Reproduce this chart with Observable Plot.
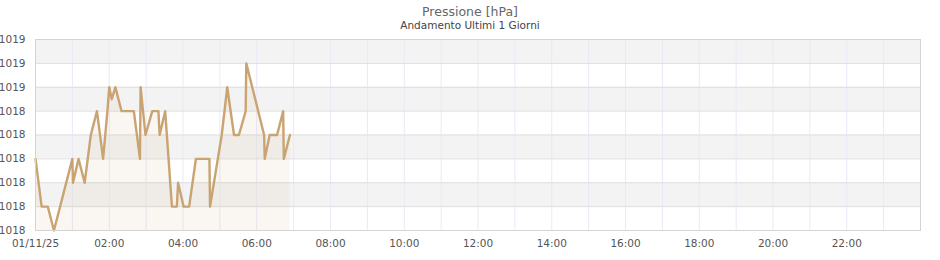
<!DOCTYPE html>
<html>
<head>
<meta charset="utf-8">
<script src="https://cdn.jsdelivr.net/npm/d3@7"></script>
<script src="https://cdn.jsdelivr.net/npm/@observablehq/plot@0.6"></script>
<style>
  body { margin: 0; background: #fff; width: 940px; height: 260px; overflow: hidden; font-family: "DejaVu Sans", sans-serif; }
  #title { text-align: center; color: #666; font-size: 12.5px; line-height: 15px; height: 15px; padding-top: 4px; }
  #subtitle { text-align: center; color: #444; font-size: 10.5px; line-height: 12px; height: 12px; }
  #chart svg { display: block; }
</style>
</head>
<body>
<div id="title">Pressione [hPa]</div>
<div id="subtitle">Andamento Ultimi 1 Giorni</div>
<div id="chart"></div>
<script>
const day = "2025-11-01";
const times = ["00:00","00:10","00:20","00:30","01:00","01:01","01:10","01:20","01:30","01:40",
  "01:50","01:57","02:00","02:04","02:10","02:20","02:40","02:50","02:51","02:59",
  "03:10","03:20","03:22","03:31","03:42","03:50","03:52","04:01","04:10","04:21",
  "04:43","04:44","05:03","05:12","05:23","05:31","05:42","05:43","06:12","06:13",
  "06:21","06:33","06:43","06:44","06:54"];
const pressure = [1018.2,1018.0,1018.0,1017.9,1018.2,1018.1,1018.2,1018.1,1018.3,1018.4,
  1018.2,1018.4,1018.5,1018.45,1018.5,1018.4,1018.4,1018.2,1018.5,1018.3,
  1018.4,1018.4,1018.3,1018.4,1018.0,1018.0,1018.1,1018.0,1018.0,1018.2,
  1018.2,1018.0,1018.3,1018.5,1018.3,1018.3,1018.4,1018.6,1018.3,1018.2,
  1018.3,1018.3,1018.4,1018.2,1018.3];
const yTicks = [1017.9,1018.0,1018.1,1018.2,1018.3,1018.4,1018.5,1018.6,1018.7];
const yTickLabels = ["1018","1018","1018","1018","1018","1018","1019","1019","1019"];
const xTickHours = [0,2,4,6,8,10,12,14,16,18,20,22];
const xTickLabels = ["01/11/25","02:00","04:00","06:00","08:00","10:00","12:00","14:00","16:00","18:00","20:00","22:00"];
const gridHours = d3.range(0, 25);

const toDate = (hhmm) => new Date(`${day}T${hhmm}:00Z`);
const start = new Date(`${day}T00:00:00Z`);
const end = new Date(start.getTime() + 24 * 3600e3);
const hourDate = h => new Date(start.getTime() + h * 3600e3);

const data = times.map((t, i) => ({date: toDate(t), value: pressure[i]}));
const xTicks = xTickHours.map(hourDate);
const gridX = gridHours.map(hourDate);
// alternating shaded bands between consecutive y ticks (top band shaded)
const bands = [];
for (let i = yTicks.length - 2; i >= 0; i -= 2) bands.push({y1: yTicks[i], y2: yTicks[i + 1]});

const lineColor = "#c9a472";

const chart = Plot.plot({
  width: 940,
  height: 229,
  marginLeft: 35,
  marginRight: 20,
  marginTop: 8,
  marginBottom: 30,
  style: {fontFamily: "DejaVu Sans, sans-serif", fontSize: "10.5px", color: "#555", background: "#fff"},
  x: {type: "utc", domain: [start, end]},
  y: {domain: [yTicks[0], yTicks[yTicks.length - 1]]},
  marks: [
    Plot.rect(bands, {x1: () => start, x2: () => end, y1: "y1", y2: "y2", fill: "#f3f3f3"}),
    Plot.gridX(gridX, {stroke: "#e9e9f7", strokeOpacity: 1}),
    Plot.gridY(yTicks, {stroke: "#dedede", strokeOpacity: 1}),
    Plot.areaY(data, {x: "date", y1: yTicks[0], y2: "value", fill: lineColor, fillOpacity: 0.09}),
    Plot.lineY(data, {x: "date", y: "value", stroke: lineColor, strokeWidth: 2.4}),
    Plot.axisY(yTicks, {tickSize: 0, tickPadding: 10, tickFormat: d => yTickLabels[yTicks.indexOf(d)], label: null}),
    Plot.axisX(xTicks, {tickSize: 0, tickPadding: 9, tickFormat: d => xTickLabels[xTicks.findIndex(t => +t === +d)], label: null}),
    Plot.frame({stroke: "#d4d4d4"})
  ]
});
document.getElementById("chart").appendChild(chart);
</script>
</body>
</html>
